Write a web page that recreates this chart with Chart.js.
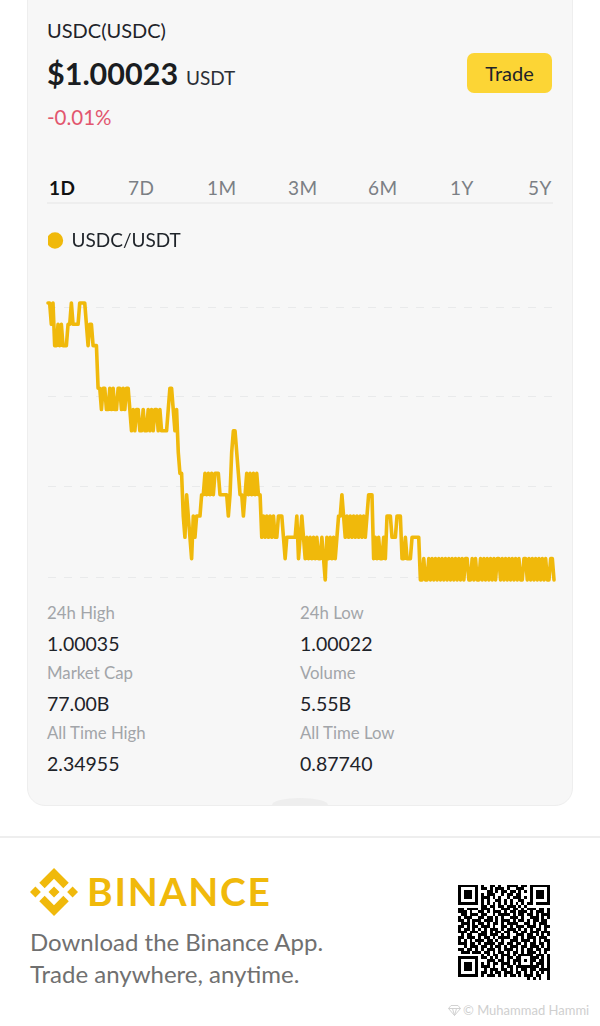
<!DOCTYPE html>
<html><head><meta charset="utf-8">
<script src="https://cdn.jsdelivr.net/npm/chart.js@4"></script>
<style>
html,body{margin:0;padding:0;background:#fff;width:600px;height:1026px;overflow:hidden;font-family:Lato,sans-serif}
.t{position:absolute;white-space:nowrap;line-height:1}
#card{position:absolute;left:27px;top:-20px;width:544px;height:824px;background:#f7f7f7;border:1px solid #eeeeee;border-radius:18px}
#bump{position:absolute;left:272px;top:798px;width:56px;height:7px;background:#eeeeee;border-radius:28px 28px 0 0/7px 7px 0 0}
#wrap{position:absolute;left:45px;top:225px;width:512px;height:365px}
#btn{position:absolute;left:467px;top:53px;width:85px;height:40px;background:#fcd535;border-radius:7px;text-align:center;line-height:40px;font-size:20px;color:#1e2329}
.tab{position:absolute;top:178px;font-size:19px;color:#7b7f85;line-height:1;letter-spacing:.4px}
.lab{position:absolute;font-size:16.8px;color:#a2a5a9;line-height:1}
.val{position:absolute;font-size:19.5px;color:#1e2329;line-height:1}
</style></head><body>
<div id="card"></div><div id="bump"></div>
<div class="t" style="left:47px;top:20px;font-size:20px;color:#1e2329">USDC(USDC)</div>
<div class="t" style="left:47px;top:58px;font-size:30.5px;font-weight:700;color:#1a1d21">$1.00023</div>
<div class="t" style="left:186px;top:68px;font-size:19px;color:#2b2f36">USDT</div>
<div id="btn">Trade</div>
<div class="t" style="left:47px;top:107px;font-size:20.5px;color:#e2566e">-0.01%</div>
<div class="tab" style="left:49px;color:#111;font-weight:700">1D</div>
<div class="tab" style="left:128px">7D</div>
<div class="tab" style="left:207px">1M</div>
<div class="tab" style="left:288px">3M</div>
<div class="tab" style="left:368px">6M</div>
<div class="tab" style="left:450px">1Y</div>
<div class="tab" style="left:528px">5Y</div>
<div style="position:absolute;left:47px;top:202px;width:506px;height:2px;background:#eeeeee"></div>
<div id="wrap"><canvas id="c" width="512" height="365"></canvas></div>
<div class="lab" style="left:47px;top:605px">24h High</div>
<div class="val" style="left:47px;top:634px">1.00035</div>
<div class="lab" style="left:47px;top:665px">Market Cap</div>
<div class="val" style="left:47px;top:694px">77.00B</div>
<div class="lab" style="left:47px;top:725px">All Time High</div>
<div class="val" style="left:47px;top:754px">2.34955</div>
<div class="lab" style="left:300px;top:605px">24h Low</div>
<div class="val" style="left:300px;top:634px">1.00022</div>
<div class="lab" style="left:300px;top:665px">Volume</div>
<div class="val" style="left:300px;top:694px">5.55B</div>
<div class="lab" style="left:300px;top:725px">All Time Low</div>
<div class="val" style="left:300px;top:754px">0.87740</div>
<div style="position:absolute;left:0;top:836px;width:600px;height:2px;background:#eeeeee"></div>
<svg style="position:absolute;left:30px;top:868px" width="48" height="48" viewBox="0 0 126.61 126.61"><path fill="#f0b90b" d="m38.73 53.2 24.59-24.58 24.6 24.6 14.3-14.31L63.32 0 24.42 38.9zM0 63.31l14.3-14.31 14.31 14.31-14.31 14.3zM38.73 73.41 63.32 98l24.6-24.6 14.31 14.29-38.9 38.91-38.91-38.88zM98 63.31l14.3-14.31 14.31 14.3-14.31 14.32zM77.83 63.3 63.32 48.78 52.59 59.51l-1.24 1.23-2.54 2.54 14.51 14.5 14.51-14.47z"/></svg>
<div class="t" style="left:87px;top:872px;font-size:39px;font-weight:700;color:#f0b90b;letter-spacing:1.7px">BINANCE</div>
<div class="t" style="left:30px;top:930px;font-size:24px;color:#707070">Download the Binance App.</div>
<div class="t" style="left:30px;top:962px;font-size:24px;color:#707070">Trade anywhere, anytime.</div>
<svg id="qr" style="position:absolute;left:458px;top:884px" width="95" height="96" viewBox="0 0 33 33" shape-rendering="crispEdges"></svg>
<svg style="position:absolute;left:448px;top:1004px" width="13" height="13" viewBox="0 0 13 13"><path d="M3 1.5h7l2.5 3-6 7-6-7z M.5 4.5h12 M4.5 4.5l2 7 2-7" fill="none" stroke="#d2d2d2"/></svg>
<div class="t" style="left:463px;top:1004px;font-size:13px;color:#cfcfcf">© Muhammad Hammi</div>
<script>
const pair = "USDC/USDT";
const priceBase = 1;
const lastDigits = [
35,35,34,35,33,33,34,33,34,33,
33,33,34,34,35,34,34,34,34,35,
35,35,35,34,33,34,34,33,33,33,
31,31,30,31,31,30,30,31,30,31,
30,30,31,31,30,31,30,31,31,30,
29,30,29,30,30,29,29,30,29,29,
30,29,30,29,30,30,29,30,29,29,
29,29,30,31,31,30,29,30,28,27,
27,25,24,26,25,24,23,25,24,25,
25,25,26,26,27,26,27,26,27,26,
27,27,27,26,26,26,26,26,25,26,
28,29,29,28,27,26,26,25,26,27,
26,27,26,27,26,27,26,26,24,25,
24,25,24,25,24,25,24,24,25,25,
25,24,23,24,24,24,24,24,24,25,23,
24,25,24,23,24,23,24,23,24,23,
24,23,23,24,23,22,24,23,24,23,
24,23,24,25,25,26,25,24,25,24,
25,24,25,24,25,24,25,24,25,24,
25,26,26,26,23,24,23,24,23,23,
24,23,25,25,25,24,24,24,25,25,
25,23,23,24,23,23,23,24,24,24,
24,24,22,22,23,22,22,23,22,23,
22,23,22,23,22,23,22,23,22,23,
22,23,22,23,22,23,22,23,22,23,
23,22,22,23,22,23,22,22,23,22,
23,22,23,22,23,22,23,22,23,23,
22,23,22,23,22,23,22,23,22,23,
22,23,22,22,23,23,22,23,22,23,
22,23,22,23,22,23,22,23,22,22,23,23,22
];
const prices = lastDigits.map(d => priceBase + d / 100000);
const timeSlots = prices.map((_, i) => i);
const gridValues = [1.000348, 1.000306, 1.000264, 1.000221];
const axisMin = 1.00021714, axisMax = 1.00035188;
const qrRows = [
"#######.#..##.#..####.##.#######",
"#.....#.##.#.###.#..###..#.....#",
"#.###.#...##.#.##.##.#.#.#.###.#",
"#.###.#.#.###..#.##.##...#.###.#",
"#.###.#.###.#.#..#.###.#.#.###.#",
"#.....#.#.#..##.#.#..##..#.....#",
"#######.#.#.#.#.#.#.#.#.##.#####",
"........##.##.##.###.#.#........",
"##.####.###.#..###.##.#.###.##.#",
"###.#..##.#.###.#.##.###.#.###.#",
".##.###.##..#.####.#.##.##.#.###",
"#.###..##.##.#.#..###.#..###.#.#",
"##.#.###.###.#.###.#.##.#.##.##.",
".###.#.##.#.##.#.####..##.#.###.",
"##.#.##.###.#..##.#.###.###.#.##",
"#.##.#.#.#.###.#.###.#.#.#.##.#.",
"###.###.##.#.##.##.##.##.###.###",
".#.##..###.###.#.#..###.##.#.#.#",
"##.###.#.##.#.####.##.#.###.###.",
"#.#.#.###.##.#.#..###.###.#.#.##",
"###.##.#.####.##.##.##.#.##.##.#",
"..#.###.##.#.##.#.###.##.###.#.#",
"##.##.#.#.###.#.###.#.#.##.##.##",
".###.###.##.#.##.#.##.#.###.#.#.",
"........#.#.##.###.#.#####.###.#",
"#######.##.#.#.#.##.##...###.#.#",
"#.....#...###.##.#.###.#.##.##.#",
"#.###.#.#.#.##.###.#.#...#.###.#",
"#.###.#.###.#..#.##.########.#.#",
"#.###.#..#.###.##.#.#.##.##.####",
"#.....#.##.#.##.###.##.#.#.#.#.#",
"#######.#.###.#.#.##.#.###.##..#",
"........................#.#.#..#"
];
const qr = document.getElementById("qr");
let qrCells = "";
qrRows.forEach((row, y) => [...row].forEach((cell, x) => {
  if (cell === "#") qrCells += `<rect x="${x}" y="${y}" width="1" height="1" fill="#000"/>`;
}));
qr.innerHTML = qrCells;

new Chart(document.getElementById("c"), {
  type: "line",
  data: { labels: timeSlots, datasets: [{
    label: pair, data: prices,
    borderColor: "#f0b90b", backgroundColor: "#f0b90b",
    borderWidth: 3.6, pointRadius: 0, tension: 0, clip: false,
    borderJoinStyle: "round", borderCapStyle: "round"
  }]},
  options: {
    responsive: false, animation: false,
    layout: { padding: { left: 3, right: 3, top: 6, bottom: 4 } },
    plugins: {
      tooltip: { enabled: false },
      legend: {
        display: true, position: "top", align: "start",
        labels: { usePointStyle: true, pointStyle: "circle", boxWidth: 14, boxHeight: 9,
          padding: 0, color: "#1e2329", font: { family: "Lato", size: 19 } }
      }
    },
    scales: {
      x: { display: false },
      y: {
        min: axisMin, max: axisMax,
        afterBuildTicks: s => { s.ticks = gridValues.map(v => ({ value: v })); },
        ticks: { display: false },
        border: { display: false, dash: [8, 8] },
        grid: { color: "#e9eaeb", lineWidth: 1, drawTicks: false }
      }
    }
  },
  plugins: [{ id: "legendHeight", beforeInit(chart) {
    const fit = chart.legend.fit;
    chart.legend.fit = function () { fit.call(this); this.height = 68; };
  }}]
});
</script>
</body></html>
